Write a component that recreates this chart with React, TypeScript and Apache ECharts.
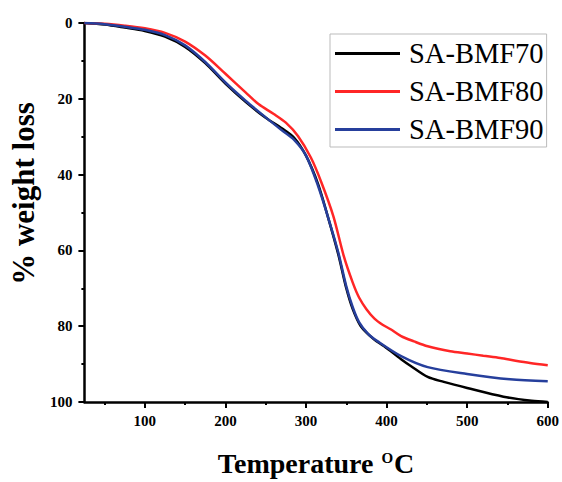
import React, { useEffect, useRef } from "react";
import * as echarts from "echarts";

const seriesNames = ["SA-BMF70", "SA-BMF80", "SA-BMF90"];

const temps70 = [25, 50, 75, 100, 125, 150, 175, 200, 225, 250, 270, 285, 300, 315, 327, 340, 350, 358, 368, 384, 397, 418, 430, 451, 471, 500, 545, 580, 600];
const loss70 = [0, 0.4, 1.2, 2.1, 3.6, 6.3, 10.6, 16, 20.8, 25, 27.8, 30.2, 35, 42.5, 51, 61, 70, 75.5, 80, 83.4, 85.3, 88.7, 90.5, 93.4, 94.7, 96.3, 98.6, 99.7, 100];

const temps80 = [25, 50, 75, 100, 125, 150, 175, 200, 225, 241, 260, 275, 290, 306, 319, 334, 347, 358, 366, 375, 385, 395, 405, 418, 434, 451, 479, 500, 520, 541, 560, 578, 600];
const loss80 = [0, 0.2, 0.7, 1.4, 2.6, 4.9, 8.6, 13.4, 18.3, 21.4, 24.0, 26.3, 29.8, 35.5, 42, 51, 61.6, 68.5, 72.5, 75.5, 78, 79.6, 80.8, 82.6, 84, 85.3, 86.6, 87.2, 87.8, 88.4, 89.1, 89.7, 90.3];

const temps90 = [25, 50, 75, 100, 125, 150, 175, 200, 225, 250, 270, 285, 300, 315, 327, 340, 350, 358, 366, 377, 389, 418, 451, 500, 553, 600];
const loss90 = [0, 0.3, 1.0, 1.8, 3.2, 5.9, 10.3, 15.7, 20.5, 24.9, 28.3, 30.8, 35, 43, 51, 60.5, 69.5, 75, 79, 82, 84, 87.9, 90.8, 92.6, 94, 94.5];

const xMajorTicks = [100, 200, 300, 400, 500, 600];
const xMinorTicks = [50, 150, 250, 350, 450, 550];

const colors = ["#000000", "#ff2626", "#263f9c"];
const FONT = "Liberation Serif";

export default function App() {
  const ref = useRef<HTMLDivElement>(null);
  useEffect(() => {
    if (!ref.current) return;
    const chart = echarts.init(ref.current, null, { renderer: "svg" });
    const pairs = (t: number[], w: number[]) => t.map((v, i) => [v, w[i]]);
    const datasets = [pairs(temps70, loss70), pairs(temps80, loss80), pairs(temps90, loss90)];
    chart.setOption({
      animation: false,
      backgroundColor: "#ffffff",
      grid: { left: 82, right: 14, top: 23, bottom: 79, containLabel: false },
      legend: {
        show: true,
        orient: "vertical",
        left: 330,
        top: 34,
        padding: [5, 3, 3, 5],
        borderColor: "#bbbbbb",
        borderWidth: 1,
        itemWidth: 65,
        itemHeight: 3,
        itemGap: 9,
        icon: "rect",
        textStyle: { fontFamily: FONT, fontSize: 28.5, color: "#000", padding: [0, 0, 0, 4], lineHeight: 28 },
        data: seriesNames,
      },
      xAxis: [
        {
          type: "value",
          min: 25,
          max: 600,
          position: "bottom",
          name: "{a|Temperature }{s|O}{a|C}",
          nameLocation: "middle",
          nameGap: 47,
          nameTextStyle: {
            rich: {
              a: { fontFamily: FONT, fontSize: 28, fontWeight: "bold", color: "#000" },
              s: { fontFamily: FONT, fontSize: 15, fontWeight: "bold", color: "#000", padding: [0, 1, 10, 1] },
            },
          },
          axisLine: { show: true, onZero: false, lineStyle: { color: "#000", width: 2.5 } },
          axisTick: { show: true, customValues: xMajorTicks, length: 6, lineStyle: { color: "#000", width: 2 } },
          axisLabel: { customValues: xMajorTicks, margin: 11, fontFamily: FONT, fontSize: 15, fontWeight: "bold", color: "#000" },
          splitLine: { show: false },
        },
        {
          type: "value",
          min: 25,
          max: 600,
          position: "bottom",
          axisLine: { show: false, onZero: false },
          axisTick: { show: true, customValues: xMinorTicks, length: 3, lineStyle: { color: "#000", width: 2 } },
          axisLabel: { show: false },
          splitLine: { show: false },
        },
      ],
      yAxis: {
        type: "value",
        inverse: true,
        min: 0,
        max: 100,
        interval: 20,
        name: "% weight loss",
        nameLocation: "middle",
        nameGap: 39,
        nameTextStyle: { fontFamily: FONT, fontSize: 31, fontWeight: "bold", color: "#000", padding: [0, 0, 0, 38] },
        axisLine: { show: true, onZero: false, lineStyle: { color: "#000", width: 2.5 } },
        axisTick: { show: true, length: 6, lineStyle: { color: "#000", width: 2 } },
        minorTick: { show: true, splitNumber: 2, length: 3, lineStyle: { color: "#000", width: 2 } },
        axisLabel: { margin: 12, fontFamily: FONT, fontSize: 15, fontWeight: "bold", color: "#000" },
        splitLine: { show: false },
        minorSplitLine: { show: false },
      },
      series: seriesNames.map((name, i) => ({
        name,
        type: "line",
        xAxisIndex: 0,
        data: datasets[i],
        smooth: 0.3,
        showSymbol: false,
        symbol: "none",
        color: colors[i],
        lineStyle: { color: colors[i], width: 2.5 },
      })),
    });
    return () => chart.dispose();
  }, []);
  return <div ref={ref} style={{ position: "fixed", left: 0, top: 0, width: 562, height: 482 }} />;
}
